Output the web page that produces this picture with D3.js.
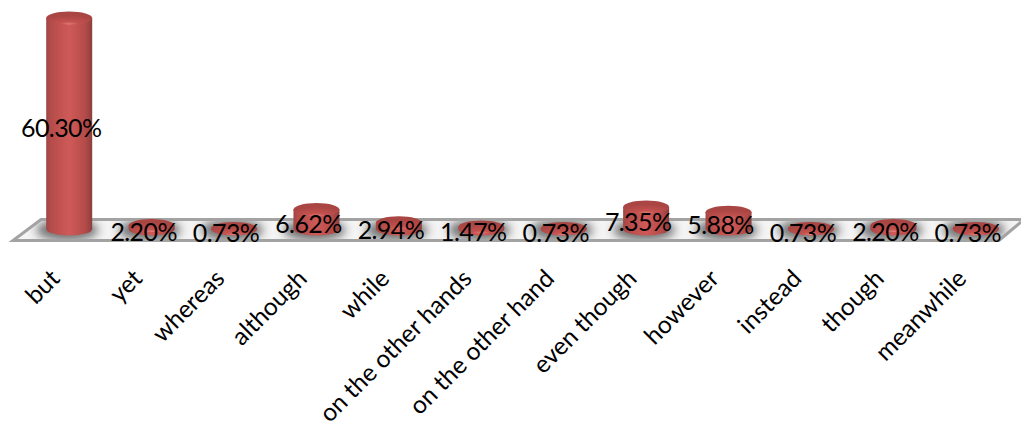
<!DOCTYPE html>
<html><head><meta charset="utf-8">
<script src="https://cdn.jsdelivr.net/npm/d3@7/dist/d3.min.js"></script>
<style>html,body{margin:0;padding:0;background:#fff;overflow:hidden}svg{display:block}
text{font-family:Lato,"Open Sans",sans-serif;fill:#000}</style></head><body>
<svg id="c" width="1021" height="429"></svg>
<script>
const categories = ["but","yet","whereas","although","while","on the other hands","on the other hand","even though","however","instead","though","meanwhile"];
const values = [60.30,2.20,0.73,6.62,2.94,1.47,0.73,7.35,5.88,0.73,2.20,0.73];
const valueLabels = ["60.30%","2.20%","0.73%","6.62%","2.94%","1.47%","0.73%","7.35%","5.88%","0.73%","2.20%","0.73%"];

const svg=d3.select("#c");
const x=d3.scaleBand().domain(categories).range([28,1017]).paddingInner(0).paddingOuter(0);
const y=d3.scaleLinear().domain([0,0.73,2.2,7.35,60.3]).range([229,228.5,225.5,207,18]);
const rx=23, ry=6.5;

const defs=svg.append("defs");
const bodyGrad=defs.append("linearGradient").attr("id","bodyGrad");
[[0,"#9c4644"],[.08,"#b24b49"],[.5,"#cf5a58"],[.85,"#b54b49"],[1,"#8a3f3e"]].forEach(s=>bodyGrad.append("stop").attr("offset",s[0]).attr("stop-color",s[1]));
const capGrad=defs.append("radialGradient").attr("id","capGrad").attr("cx",.5).attr("cy",1).attr("r",.7);
[[0,"#e8837f"],[.3,"#c4524f"],[1,"#a94543"]].forEach(s=>capGrad.append("stop").attr("offset",s[0]).attr("stop-color",s[1]));
defs.append("filter").attr("id","blur").attr("x","-50%").attr("width","200%").attr("y","-100%").attr("height","300%")
  .append("feGaussianBlur").attr("stdDeviation",5);
defs.append("clipPath").attr("id","floorClip").append("polygon").attr("points","12,241 41,219 1021,219 1021,222 1000,241");

// floor
svg.append("polygon").attr("points","14,240 41,220 1025,220 1000,240").attr("fill","#f4f4f4");
const shade=svg.append("g").attr("clip-path","url(#floorClip)");
shade.selectAll("ellipse").data(categories).join("ellipse")
  .attr("cx",d=>x(d)+x.bandwidth()/2-2).attr("cy",230).attr("rx",31).attr("ry",11)
  .attr("fill","#5f5f5f").attr("opacity",.85).attr("filter","url(#blur)");
svg.append("path").attr("d","M1021,222 L999,240.5 L13,240.5 L41,219.5 L1021,219.5")
  .attr("fill","none").attr("stroke","#a3a3a3").attr("stroke-width",3);

// bars
const bars=svg.append("g").selectAll("g").data(categories).join("g");
bars.append("path").attr("d",(d,i)=>{
  const cx=x(d)+x.bandwidth()/2, y0=y(0), y1=y(values[i]);
  return `M${cx-rx},${y1}L${cx-rx},${y0}A${rx},${ry} 0 0 0 ${cx+rx},${y0}L${cx+rx},${y1}Z`;
}).attr("fill","url(#bodyGrad)");
bars.append("ellipse").attr("cx",d=>x(d)+x.bandwidth()/2).attr("cy",(d,i)=>y(values[i]))
  .attr("rx",rx).attr("ry",ry).attr("fill","url(#capGrad)");

// value labels
svg.append("g").selectAll("text").data(categories).join("text")
  .attr("x",d=>x(d)+x.bandwidth()/2-8)
  .attr("y",(d,i)=>(y(0)+y(values[i]))/2+7)
  .attr("text-anchor","middle").attr("dominant-baseline","middle")
  .attr("font-size",25).attr("letter-spacing","-0.6")
  .text((d,i)=>valueLabels[i]);

// category axis
const axis=svg.append("g").attr("transform","translate(0,262)").call(d3.axisBottom(x).tickSize(0).tickPadding(0));
axis.select(".domain").remove();
axis.selectAll("text").attr("font-size",24.5).attr("text-anchor","end").attr("dy",0)
  .attr("transform","translate(-8,18) rotate(-45)");
axis.attr("font-family",null).attr("font-size",null);
</script></body></html>
